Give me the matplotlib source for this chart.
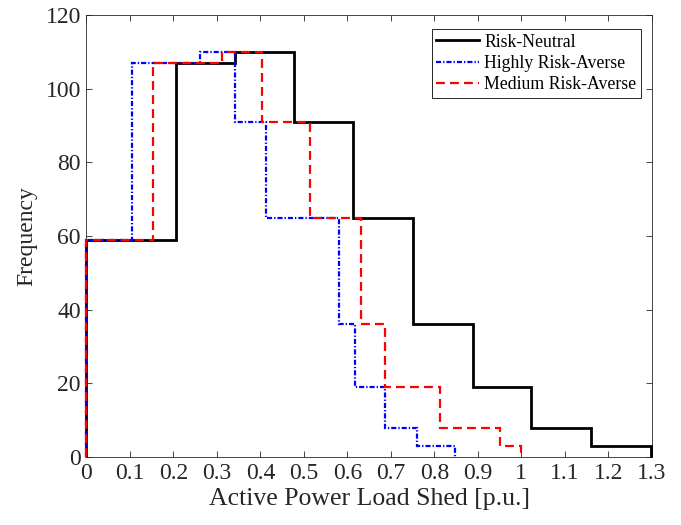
import matplotlib
matplotlib.use("Agg")
import matplotlib.pyplot as plt
import numpy as np

plt.rcParams["font.family"] = ["Liberation Serif", "DejaVu Serif"]
plt.rcParams["mathtext.fontset"] = "stix"

# shared bin counts (same for all three cases)
counts = [59, 107, 110, 91, 65, 36, 19, 8, 3]

# bin edges [p.u.]
edges_neutral = [0, 0.205, 0.341, 0.478, 0.613, 0.750, 0.888, 1.023, 1.160, 1.298]
edges_high = [0, 0.105, 0.261, 0.341, 0.414, 0.581, 0.617, 0.686, 0.761, 0.847]
edges_medium = [0, 0.154, 0.311, 0.403, 0.514, 0.631, 0.686, 0.812, 0.951, 1.000]

xticks = np.round(np.arange(0, 1.31, 0.1), 1)
yticks = [0, 20, 40, 60, 80, 100, 120]

fig = plt.figure(figsize=(6.81, 5.25), dpi=100)
ax = fig.add_axes([0.127, 0.1295, 0.830, 0.842])

ax.stairs(counts, edges_neutral, baseline=0, color="black", lw=2.0,
          label="Risk-Neutral", zorder=3, clip_on=False)
ax.stairs(counts, edges_high, baseline=0, color="#0000ff", lw=1.6,
          linestyle=(0, (2.3, 0.9, 0.6, 0.9)), label="Highly Risk-Averse",
          zorder=3, clip_on=False)
ax.stairs(counts, edges_medium, baseline=0, color="#ff0000", lw=1.6,
          linestyle=(0, (4, 2.3)), label="Medium Risk-Averse",
          zorder=3, clip_on=False)

ax.set_xlim(0, 1.3)
ax.set_ylim(0, 120)
ax.set_xticks(xticks)
ax.set_xticklabels([f"{t:g}" for t in xticks])
ax.set_yticks(yticks)
ax.tick_params(direction="in", top=True, right=True, labelsize=17,
               length=4, width=0.6, colors="#262626", labelcolor="#262626",
               pad=4)
for sp in ax.spines.values():
    sp.set_linewidth(0.6)
    sp.set_color("#262626")

ax.set_xlabel("Active Power Load Shed [p.u.]", fontsize=18.5, color="#262626",
              labelpad=3)
ax.set_ylabel("Frequency", fontsize=17, color="#262626", labelpad=6)

leg = ax.legend(loc="upper right", fontsize=12.8, fancybox=False,
                framealpha=1, edgecolor="#262626", handlelength=2.4,
                handletextpad=0.3, borderpad=0.25, labelspacing=0.25,
                borderaxespad=0.3, bbox_to_anchor=(0.99, 0.98))
leg.get_frame().set_linewidth(0.7)

fig.savefig("out.png", dpi=100)
